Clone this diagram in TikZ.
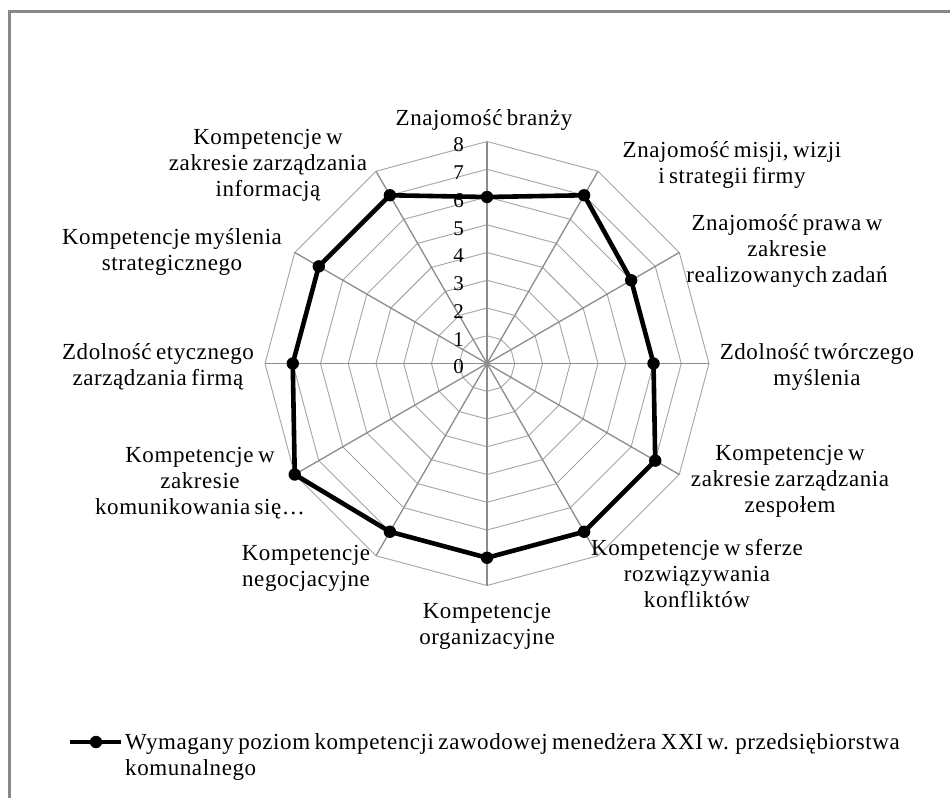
\documentclass[tikz,border=0pt]{standalone}
\usepackage{fontspec}
\setmainfont{Liberation Serif}[LetterSpace=2.5,WordSpace=0.7]
\definecolor{framegray}{RGB}{136,136,136}
\definecolor{spokegray}{RGB}{140,140,140}
\definecolor{gridgray}{RGB}{165,165,165}
\begin{document}
\begin{tikzpicture}[x=1pt,y=-1pt,
  framebox/.style={draw=framegray,line width=3pt},
  gridline/.style={draw=gridgray,line width=0.9pt},
  spoke/.style={draw=spokegray,line width=1.3pt},
  dataline/.style={draw=black,line width=4.6pt,line join=round},
  datamark/.style={fill=black},
  lbl/.style={align=center,inner sep=0pt,font=\fontsize{23}{26}\selectfont},
  numlbl/.style={inner sep=0pt,anchor=east,font=\fontsize{21}{24}\selectfont},
  legtext/.style={inner sep=0pt,anchor=base west,font=\fontsize{23}{26}\selectfont}]
\useasboundingbox (0,0) rectangle (950,798);
\fill[white] (0,0) rectangle (950,798);
\draw[framebox] (9.5,798) -- (9.5,11.5) -- (950,11.5);

\coordinate (C) at (487,363.5);
\begin{scope}[shift={(C)}]
  % grid polygons
  \foreach \k in {1,...,8}{
    \draw[gridline] (90:{\k*27.75pt})
      \foreach \i in {1,...,11}{ -- ({90-30*\i}:{\k*27.75pt})} -- cycle;
  }
  % spokes
  \foreach \i in {0,...,11}{
    \draw[spoke] (0,0) -- ({90-30*\i}:{8*27.75pt});
  }
  % data points
  \foreach \v [count=\i from 0] in {6,7,6,6,7,7,7,7,8,7,7,7}{
    \coordinate (d\i) at ({90-30*\i}:{\v*27.75pt});
  }
\end{scope}

\foreach \v in {0,...,8}{
  \node[numlbl] (n\v) at (464,{367-27.75*\v}) {\v};
}

\draw[dataline] (d0) -- (d1) -- (d2) -- (d3) -- (d4) -- (d5) -- (d6) -- (d7)
  -- (d8) -- (d9) -- (d10) -- (d11) -- cycle;
\foreach \i in {0,...,11}{
  \fill[datamark] (d\i) circle (6.2pt);
}

% category labels
\node[lbl] (l0) at (484,120) {Znajomość branży};
\node[lbl] (l1) at (732,165) {Znajomość misji, wizji\\i strategii firmy};
\node[lbl] (l2) at (787,251) {Znajomość prawa w\\zakresie\\realizowanych zadań};
\node[lbl] (l3) at (817,367) {Zdolność twórczego\\myślenia};
\node[lbl] (l4) at (790,481) {Kompetencje w\\zakresie zarządzania\\zespołem};
\node[lbl] (l5) at (697,574) {Kompetencje w sferze\\rozwiązywania\\konfliktów};
\node[lbl] (l6) at (487,626) {Kompetencje\\organizacyjne};
\node[lbl] (l7) at (306,568) {Kompetencje\\negocjacyjne};
\node[lbl] (l8) at (200,483) {Kompetencje w\\zakresie\\komunikowania się…};
\node[lbl] (l9) at (158,367) {Zdolność etycznego\\zarządzania firmą};
\node[lbl] (l10) at (172,252) {Kompetencje myślenia\\strategicznego};
\node[lbl] (l11) at (268,165) {Kompetencje w\\zakresie zarządzania\\informacją};

% legend
\coordinate (legA) at (70,742);
\coordinate (legB) at (121,742);
\coordinate (legM) at (96,742);
\draw[dataline] (legA) -- (legB);
\fill[datamark] (legM) circle (6.2pt);
\node[legtext] (leg1) at (125,749) {Wymagany poziom kompetencji zawodowej menedżera XXI w. przedsiębiorstwa};
\node[legtext] (leg2) at (125,775) {komunalnego};
\end{tikzpicture}
\end{document}
